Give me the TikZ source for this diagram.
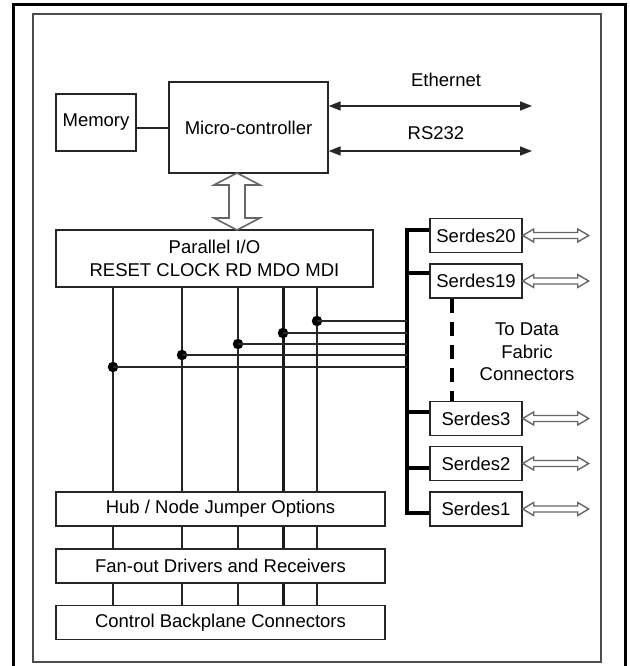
\documentclass[tikz,border=0pt]{standalone}
\usepackage{fontspec}
\setmainfont{Liberation Sans}
\usetikzlibrary{arrows.meta,calc}
\newcommand\fsz{\fontsize{18.5}{22.5}\selectfont}
\newcommand\serarrow[1]{\draw[hollow, line width=1.4pt] (#1.east) -- ++(11,-6.5) -- ++(0,3.5) -- ++(44,0) -- ++(0,-3.5) -- ++(11,6.5) -- ++(-11,6.5) -- ++(0,-3.5) -- ++(-44,0) -- ++(0,3.5) -- cycle;}
\tikzset{
 box/.style={draw=black!85, line width=1.4pt, fill=white, inner sep=0pt, font=\fsz},
 wide/.style={minimum width=329pt, minimum height=34pt},
 serdes/.style={box, minimum width=92pt, minimum height=34pt},
 sig/.style={line width=1.6pt, draw=black!85},
 sigthick/.style={line width=3pt, draw=black!90},
 bus/.style={line width=3.5pt, draw=black},
 hollow/.style={draw=black!60, line width=1.6pt, fill=white, line join=miter},
 dot/.style={circle, fill=black, inner sep=0pt, minimum size=10.5pt},
 lbl/.style={font=\fsz, inner sep=0pt},
 tip/.style={{Triangle[length=12pt,width=9pt]}-{Triangle[length=12pt,width=9pt]}}
}
\begin{document}
\begin{tikzpicture}[x=1pt,y=-1pt]
\useasboundingbox (0,0) rectangle (629,666);
% frames
\draw[line width=3pt] (13,672) -- (13,5) -- (625,5) -- (625,672);
\draw[line width=1.5pt, black!70] (33,14) rectangle (601,662);

% boxes
\node[box, minimum width=80pt, minimum height=57pt] (mem) at (96,122.5) {Memory};
\node[box, minimum width=159pt, minimum height=91pt] (micro) at (248.5,127.5) {Micro-controller};
\node[box, minimum width=317pt, minimum height=57pt, align=center] (pio) at (214.5,258.5) {Parallel I/O\\RESET CLOCK RD MDO MDI};
\node[box, wide] (hub) at (220.5,509) {Hub / Node Jumper Options};
\node[box, wide] (fan) at (220.5,566) {Fan-out Drivers and Receivers};
\node[box, wide] (ctrl) at (220.5,622.5) {Control Backplane Connectors};
\node[serdes] (s20) at (476,235.5) {Serdes20};
\node[serdes] (s19) at (476,281) {Serdes19};
\node[serdes] (s3) at (476,418.5) {Serdes3};
\node[serdes] (s2) at (476,463.5) {Serdes2};
\node[serdes] (s1) at (476,509) {Serdes1};

% labels
\node[lbl] (eth) at (446,80) {Ethernet};
\node[lbl] (rs) at (436,133) {RS232};
\node[lbl, align=center] (fab) at (527,352) {To Data\\Fabric\\Connectors};

% memory - micro
\coordinate (mm) at (0,128);
\draw[sig] (mem.east |- mm) -- (micro.west |- mm);

% ethernet / rs232
\coordinate (ethend) at (532,106);
\coordinate (rsend) at (532,151);
\draw[sig, tip] (micro.east |- ethend) -- (ethend);
\draw[sig, tip] (micro.east |- rsend) -- (rsend);

% hollow vertical arrow micro <-> parallel io
\draw[hollow] (237,173) -- ++(23,12) -- ++(-15,0) -- (245,218) -- ++(15,0) -- (237,230) -- ++(-23,-12) -- ++(15,0) -- (229,185) -- ++(-15,0) -- cycle;

% signal columns
\foreach \cx [count=\i] in {113,182,238,283,317} {\coordinate (col\i) at (\cx,0);}
\foreach \i/\st in {1/sig,2/sig,3/sig,4/sigthick,5/sig} {
  \draw[\st] (col\i |- pio.south) -- (col\i |- hub.north);
  \draw[\st] (col\i |- hub.south) -- (col\i |- fan.north);
  \draw[\st] (col\i |- fan.south) -- (col\i |- ctrl.north);
}

% bus
\coordinate (busx) at (407,0);
\coordinate (j20) at ([yshift=5.5pt]s20.west);
\coordinate (j19) at ([yshift=8pt]s19.west);
\coordinate (j3) at ([yshift=6.5pt]s3.west);
\coordinate (j2) at ([yshift=-4.5pt]s2.west);
\coordinate (j1) at ([yshift=-4pt]s1.west);
\draw[bus] (j20) -- (j20 -| busx) -- (j1 -| busx) -- (j1);
\draw[bus] (j19 -| busx) -- (j19);
\draw[bus] (j3 -| busx) -- (j3);
\draw[bus] (j2 -| busx) -- (j2);

% dots and taps
\foreach \i/\dy in {1/367,2/355,3/344,4/333,5/321} {
  \path (col\i) ++(0,\dy) node[dot] (dot\i) {};
  \draw[sig] (dot\i.center) -- (dot\i -| busx);
}

% dashed continuation
\coordinate (dx) at (452,0);
\draw[line width=3.5pt, dash pattern=on 14pt off 9pt] (s19.south -| dx) -- (s3.north -| dx);

% serdes links
\serarrow{s20}
\serarrow{s19}
\serarrow{s3}
\serarrow{s2}
\serarrow{s1}
\end{tikzpicture}
\end{document}
